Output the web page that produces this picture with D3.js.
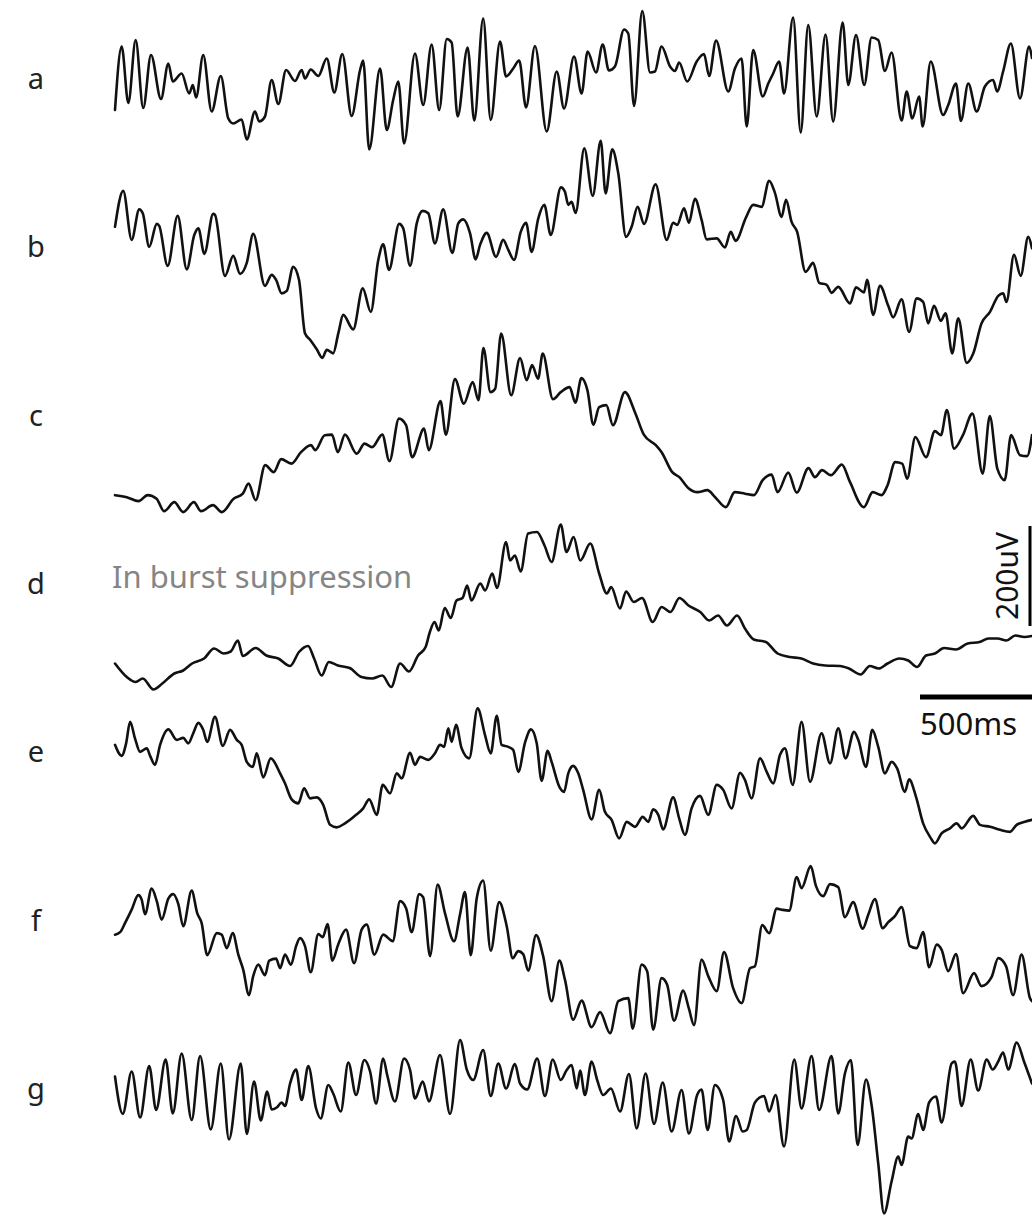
<!DOCTYPE html>
<html><head><meta charset="utf-8">
<script src="https://cdn.jsdelivr.net/npm/d3@7"></script>
<style>html,body{margin:0;padding:0;background:#fff;overflow:hidden}</style>
</head><body>
<svg id="chart" width="1032" height="1218"></svg>
<script>
// Channel labels
const channels = ["a","b","c","d","e","f","g"];
const annotation = "In burst suppression";
const annotatedChannel = "d";
const timeBarMs = 500, timeBarLabel = "500ms";
const ampBarUV = 200, ampBarLabel = "200uV";
// Each trace: [time (ms), amplitude (uV)] pairs
const traceA = [[0,-60],[30,67],[60,-46],[93,80],[127,-56],[162,50],[207,-38],[240,33],[260,-3],[300,13],[334,-27],[350,-10],[365,-35],[397,50],[435,-63],[476,8],[510,-77],[532,-87],[570,-79],[593,-119],[630,-63],[649,-83],[675,-73],[705,0],[735,-48],[770,20],[810,-2],[840,20],[855,3],[881,21],[915,8],[953,43],[987,-25],[1023,52],[1065,-72],[1103,20],[1117,39],[1144,-139],[1193,23],[1223,-100],[1252,-40],[1275,-3],[1301,-127],[1350,53],[1387,-50],[1425,71],[1459,-60],[1493,82],[1515,75],[1542,-73],[1587,65],[1617,-81],[1657,123],[1691,-80],[1733,77],[1760,7],[1792,23],[1819,39],[1850,-55],[1890,68],[1943,-103],[1988,17],[2021,-57],[2066,47],[2100,-27],[2127,57],[2165,15],[2195,71],[2223,19],[2250,27],[2291,101],[2310,93],[2336,-52],[2373,138],[2408,15],[2430,17],[2460,67],[2498,27],[2520,18],[2539,35],[2575,-3],[2618,37],[2651,52],[2674,8],[2705,79],[2760,-23],[2790,23],[2820,43],[2843,-93],[2872,60],[2915,-33],[2940,-7],[2962,13],[2989,37],[3011,-27],[3052,125],[3086,-105],[3120,110],[3158,-73],[3198,91],[3232,-83],[3275,115],[3300,-10],[3335,90],[3372,-10],[3405,85],[3435,80],[3465,18],[3495,55],[3540,-81],[3563,-23],[3588,-77],[3619,-33],[3635,-93],[3671,37],[3727,-70],[3750,-50],[3785,-7],[3807,-82],[3840,-7],[3878,-63],[3915,-13],[3952,0],[3970,-23],[3997,17],[4032,73],[4073,-37],[4114,67],[4127,44]];
const traceB = [[0,43],[37,115],[75,17],[109,78],[125,70],[154,3],[188,49],[199,45],[237,-35],[282,65],[323,-42],[357,27],[375,40],[402,-11],[442,69],[450,67],[495,-55],[532,-15],[563,-51],[593,-29],[622,29],[675,-75],[705,-53],[725,-63],[750,-90],[773,-85],[802,-37],[828,-63],[855,-170],[878,-183],[908,-202],[933,-219],[953,-203],[982,-210],[1005,-170],[1027,-133],[1072,-162],[1115,-80],[1151,-127],[1185,-23],[1207,8],[1233,-43],[1279,49],[1297,40],[1328,-35],[1358,50],[1385,75],[1410,70],[1440,10],[1477,78],[1518,-9],[1545,50],[1567,58],[1598,30],[1623,-22],[1643,7],[1673,31],[1715,-17],[1747,17],[1770,-3],[1796,-23],[1826,33],[1850,51],[1875,-7],[1905,60],[1932,87],[1961,27],[2007,122],[2025,113],[2040,87],[2055,93],[2073,71],[2112,200],[2150,105],[2186,215],[2208,110],[2238,198],[2265,150],[2300,23],[2325,43],[2352,83],[2381,49],[2433,128],[2483,17],[2512,51],[2530,47],[2561,80],[2583,51],[2610,99],[2640,57],[2663,18],[2708,20],[2745,2],[2771,33],[2793,15],[2840,62],[2872,87],[2910,83],[2944,135],[2970,111],[3000,63],[3020,97],[3045,53],[3070,33],[3108,-47],[3142,-29],[3169,-69],[3203,-73],[3225,-89],[3255,-77],[3308,-110],[3335,-78],[3371,-88],[3385,-63],[3412,-133],[3443,-75],[3480,-115],[3502,-138],[3540,-102],[3574,-167],[3608,-100],[3637,-107],[3660,-150],[3686,-115],[3717,-145],[3738,-130],[3768,-210],[3795,-140],[3833,-229],[3862,-211],[3900,-150],[3938,-127],[3975,-95],[3997,-90],[4012,-107],[4046,-13],[4076,-55],[4110,23],[4127,0]];
const traceC = [[0,-157],[53,-161],[106,-169],[147,-157],[187,-164],[221,-189],[267,-171],[307,-191],[355,-171],[387,-189],[441,-177],[481,-191],[534,-164],[575,-154],[601,-134],[633,-167],[676,-97],[714,-111],[748,-85],[794,-94],[837,-71],[882,-57],[901,-67],[944,-37],[976,-36],[1003,-71],[1035,-36],[1088,-74],[1123,-54],[1157,-61],[1203,-36],[1235,-89],[1278,-4],[1310,-17],[1337,-81],[1391,-24],[1412,-67],[1465,31],[1489,-36],[1530,75],[1570,26],[1610,69],[1636,33],[1658,137],[1690,49],[1711,56],[1738,166],[1783,43],[1823,117],[1853,73],[1877,103],[1904,76],[1925,126],[1971,35],[2006,49],[2046,59],[2072,28],[2099,77],[2126,53],[2153,-16],[2179,19],[2211,23],[2241,-17],[2295,49],[2340,9],[2380,-36],[2434,-57],[2460,-71],[2508,-111],[2540,-121],[2581,-143],[2621,-151],[2666,-147],[2701,-161],[2749,-181],[2789,-151],[2835,-154],[2875,-157],[2915,-127],[2955,-116],[2982,-151],[3030,-112],[3068,-152],[3121,-103],[3150,-121],[3182,-107],[3222,-117],[3271,-96],[3308,-131],[3370,-181],[3410,-151],[3450,-157],[3477,-137],[3511,-91],[3543,-94],[3565,-124],[3602,-41],[3650,-81],[3690,-29],[3717,-37],[3744,13],[3776,-64],[3816,-37],[3859,6],[3905,-114],[3937,1],[3971,-104],[4004,-127],[4033,-37],[4073,-77],[4105,-79],[4127,-37]];
const traceD = [[0,-157],[53,-184],[93,-194],[125,-187],[173,-209],[213,-197],[267,-177],[307,-171],[347,-157],[401,-147],[446,-127],[489,-137],[521,-133],[553,-111],[575,-142],[633,-126],[681,-141],[735,-147],[788,-162],[828,-134],[869,-122],[896,-147],[930,-181],[962,-154],[1003,-161],[1056,-166],[1109,-184],[1157,-187],[1203,-181],[1243,-204],[1283,-157],[1323,-173],[1364,-141],[1398,-124],[1417,-94],[1438,-74],[1457,-91],[1484,-46],[1511,-66],[1537,-31],[1564,-26],[1585,-1],[1604,-31],[1644,3],[1666,-11],[1698,23],[1719,-6],[1760,86],[1778,49],[1800,59],[1826,27],[1859,103],[1899,106],[1933,79],[1965,46],[2006,121],[2032,66],[2064,96],[2094,49],[2139,83],[2179,23],[2214,-17],[2233,-4],[2273,-47],[2300,-13],[2335,-34],[2372,-26],[2420,-74],[2460,-44],[2500,-54],[2540,-26],[2581,-41],[2634,-54],[2674,-71],[2714,-61],[2754,-81],[2800,-61],[2835,-87],[2875,-109],[2929,-114],[2982,-137],[3036,-144],[3089,-147],[3142,-157],[3196,-161],[3263,-162],[3303,-167],[3356,-179],[3397,-162],[3437,-167],[3477,-157],[3530,-147],[3570,-151],[3610,-164],[3650,-141],[3690,-137],[3731,-126],[3785,-129],[3838,-117],[3891,-114],[3931,-107],[3972,-107],[4012,-111],[4052,-101],[4092,-104],[4127,-102]];
const traceE = [[0,17],[30,-5],[50,20],[68,63],[90,30],[113,3],[143,10],[158,-5],[180,-23],[203,17],[240,48],[278,27],[307,31],[330,20],[352,40],[375,61],[397,47],[415,23],[450,73],[485,15],[518,47],[548,27],[570,17],[593,-17],[620,-27],[638,0],[667,-48],[701,-10],[743,-40],[765,-60],[795,-92],[825,-100],[851,-70],[878,-90],[908,-88],[937,-103],[968,-143],[998,-148],[1035,-140],[1058,-133],[1085,-123],[1117,-110],[1144,-92],[1178,-123],[1205,-63],[1238,-80],[1268,-40],[1290,-50],[1328,1],[1350,-23],[1373,-7],[1410,-13],[1440,0],[1463,17],[1481,13],[1500,50],[1515,23],[1535,57],[1560,10],[1594,-10],[1632,90],[1665,37],[1691,0],[1718,75],[1740,17],[1770,13],[1792,7],[1815,-37],[1845,21],[1872,48],[1898,20],[1920,-55],[1947,5],[1965,-17],[2000,-67],[2021,-77],[2040,-40],[2062,-25],[2085,-40],[2107,-73],[2145,-132],[2179,-73],[2205,-117],[2235,-133],[2269,-170],[2303,-137],[2340,-147],[2375,-127],[2400,-137],[2422,-112],[2445,-123],[2467,-152],[2512,-88],[2539,-130],[2565,-163],[2595,-110],[2633,-85],[2670,-123],[2708,-63],[2737,-73],[2775,-110],[2813,-39],[2835,-53],[2865,-90],[2903,-10],[2933,-37],[2962,-60],[2993,-3],[3015,10],[3050,-63],[3090,63],[3128,-57],[3180,40],[3218,-20],[3255,50],[3288,-10],[3326,43],[3345,27],[3380,-27],[3408,47],[3435,13],[3465,-40],[3495,-17],[3520,-30],[3555,-77],[3574,-52],[3605,-87],[3637,-140],[3668,-167],[3690,-180],[3720,-160],[3758,-150],[3788,-140],[3810,-150],[3862,-125],[3893,-143],[3938,-147],[3983,-153],[4028,-157],[4058,-143],[4095,-137],[4127,-133]];
const traceF = [[0,-26],[23,-21],[45,-3],[75,24],[105,53],[120,44],[135,15],[165,66],[188,41],[210,4],[240,46],[262,55],[285,35],[307,-9],[345,62],[370,17],[390,-3],[415,-67],[458,-23],[480,-26],[503,-53],[530,-23],[555,-66],[577,-96],[603,-147],[622,-109],[645,-86],[675,-107],[694,-78],[725,-74],[743,-93],[765,-66],[792,-86],[815,-49],[833,-33],[855,-49],[881,-101],[915,-25],[935,-31],[957,-5],[978,-78],[1005,-45],[1040,-16],[1076,-83],[1110,-16],[1133,-6],[1167,-66],[1207,-26],[1250,-39],[1283,41],[1310,27],[1335,-21],[1369,55],[1387,49],[1418,-69],[1452,74],[1485,17],[1526,-39],[1553,15],[1575,59],[1601,-67],[1628,47],[1657,82],[1691,-58],[1729,39],[1763,-9],[1790,-73],[1815,-59],[1837,-65],[1860,-98],[1895,-27],[1927,-69],[1965,-159],[2000,-78],[2025,-116],[2062,-196],[2100,-158],[2145,-211],[2183,-181],[2228,-223],[2265,-159],[2310,-153],[2330,-214],[2370,-86],[2395,-99],[2422,-216],[2460,-113],[2485,-126],[2516,-198],[2557,-138],[2583,-174],[2606,-207],[2640,-76],[2670,-109],[2708,-139],[2741,-61],[2782,-133],[2820,-163],[2858,-93],[2880,-89],[2913,-7],[2944,-23],[2978,26],[3000,24],[3034,22],[3068,89],[3090,67],[3131,111],[3155,71],[3187,51],[3218,75],[3255,69],[3285,9],[3322,39],[3365,-14],[3390,14],[3420,45],[3455,-13],[3480,-1],[3510,11],[3540,29],[3578,-49],[3608,-53],[3637,-21],[3664,-91],[3698,-46],[3720,-56],[3750,-99],[3785,-65],[3817,-143],[3866,-103],[3900,-129],[3945,-111],[3975,-73],[4010,-89],[4042,-147],[4080,-66],[4118,-153],[4127,-159]];
const traceG = [[0,27],[35,-48],[75,37],[113,-55],[154,48],[185,-40],[228,61],[260,-47],[300,73],[345,-60],[383,68],[431,-79],[476,53],[513,-99],[566,53],[593,-88],[626,17],[656,-61],[685,-3],[705,-39],[728,-35],[750,-25],[765,-32],[788,13],[815,41],[840,-20],[870,48],[905,-37],[926,-57],[960,10],[982,-7],[1016,-43],[1050,55],[1085,-10],[1122,60],[1148,37],[1175,-27],[1207,63],[1225,30],[1260,-23],[1301,63],[1328,40],[1350,-17],[1385,17],[1413,-23],[1463,70],[1508,-48],[1553,100],[1583,41],[1612,20],[1657,80],[1691,-12],[1725,53],[1760,3],[1800,52],[1823,13],[1855,1],[1900,63],[1935,-12],[1970,61],[2006,20],[2033,40],[2055,50],[2078,3],[2093,39],[2115,-10],[2145,57],[2170,20],[2197,-10],[2232,3],[2273,-43],[2313,32],[2348,-77],[2388,33],[2426,-68],[2465,15],[2505,-83],[2550,0],[2583,-87],[2620,-10],[2640,1],[2667,-80],[2700,10],[2737,-20],[2764,-103],[2795,-52],[2825,-83],[2843,-80],[2880,-25],[2921,-12],[2944,-43],[2973,-10],[3011,-113],[3057,61],[3090,-37],[3135,68],[3169,-40],[3225,68],[3255,-47],[3285,33],[3312,60],[3342,-110],[3380,21],[3405,-30],[3435,-147],[3461,-247],[3495,-183],[3525,-133],[3540,-150],[3570,-93],[3585,-97],[3615,-48],[3637,-80],[3664,-25],[3695,-13],[3720,-65],[3765,53],[3780,57],[3810,-32],[3851,61],[3885,-1],[3923,61],[3950,41],[3975,57],[3997,75],[4020,41],[4058,95],[4091,57],[4127,13]];
const traces = [traceA, traceB, traceC, traceD, traceE, traceF, traceG];

const svg = d3.select("#chart");
const FONT = "'Noto Sans','Open Sans',sans-serif";

const x = d3.scaleLinear().domain([0, 4127]).range([115, 1032]);
const row = d3.scalePoint().domain(channels).range([80, 1090]);
const amp = d3.scaleLinear().domain([-100, 100]).range([50, -50]); // 0.5 px per uV

const line = d3.line()
  .x(d => x(d[0]))
  .y(d => amp(d[1]))
  .curve(d3.curveMonotoneX);

const g = svg.selectAll("g.ch").data(channels).join("g")
  .attr("class", "ch")
  .attr("transform", d => `translate(0,${row(d)})`);

g.append("path")
  .attr("d", (d, i) => line(traces[i]))
  .attr("fill", "none")
  .attr("stroke", "#111")
  .attr("stroke-width", 2.6)
  .attr("stroke-linejoin", "round")
  .attr("stroke-linecap", "round");

g.append("text")
  .attr("x", 36).attr("y", 9)
  .attr("text-anchor", "middle")
  .attr("font-family", FONT).attr("font-size", 29)
  .attr("fill", "#222")
  .text(d => d);

svg.append("text")
  .attr("x", 112).attr("y", row(annotatedChannel) + 3)
  .attr("font-family", FONT).attr("font-size", 31)
  .attr("fill", "#858585")
  .text(annotation);

// scale bars
const tLen = x(timeBarMs) - x(0);
const hbX = 920, hbY = 697;
svg.append("rect").attr("x", hbX).attr("y", hbY - 2.5).attr("width", tLen + 2).attr("height", 5).attr("fill", "#000");
svg.append("text").attr("x", hbX).attr("y", 735)
  .attr("font-family", FONT).attr("font-size", 31).attr("fill", "#111").text(timeBarLabel);

const aLen = amp(0) - amp(ampBarUV);
const vbX = 1030, vbTop = 526;
svg.append("rect").attr("x", vbX - 1.5).attr("y", vbTop).attr("width", 3).attr("height", aLen).attr("fill", "#000");
svg.append("text")
  .attr("transform", `translate(1018,${vbTop + aLen / 2}) rotate(-90)`)
  .attr("text-anchor", "middle")
  .attr("font-family", FONT).attr("font-size", 30).attr("fill", "#111").text(ampBarLabel);
</script>
</body></html>
